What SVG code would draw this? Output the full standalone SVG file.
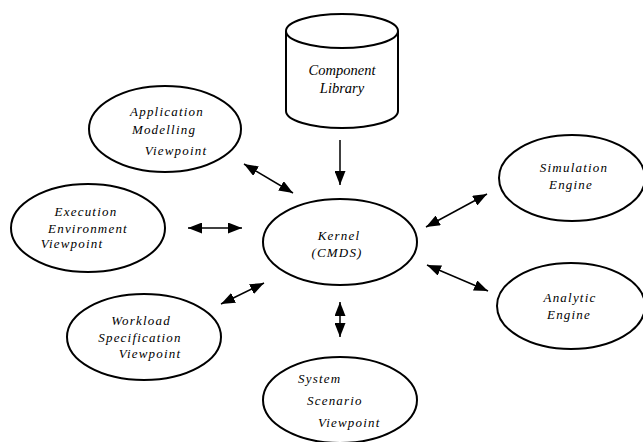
<svg xmlns="http://www.w3.org/2000/svg" width="643" height="442" viewBox="0 0 643 442">
  <style>
    .node { fill: #fff; stroke: #000; stroke-width: 2; }
    .lbl { font-family: 'Liberation Serif', 'Times New Roman', serif; font-style: italic; font-size: 13px; letter-spacing: 1.2px; fill: #000; }
    .lib { letter-spacing: 0; font-size: 14.5px; }
    .mid { text-anchor: middle; }
    .link { stroke: #000; stroke-width: 1.5; fill: none; }
  </style>
  <defs>
    <marker id="head" viewBox="0 0 14 11" refX="14" refY="5.5" markerWidth="14" markerHeight="11" markerUnits="userSpaceOnUse" orient="auto-start-reverse">
      <path d="M0,0 L14,5.5 L0,11 Z" fill="#000"/>
    </marker>
  </defs>
  <rect width="643" height="442" fill="#fff"/>

  <g id="component-library">
    <path class="node" d="M286,31 L286,111 A56,17 0 0 0 398,111 L398,31"/>
    <ellipse class="node" cx="342" cy="31" rx="56" ry="17"/>
    <text class="lbl lib mid" x="342" y="75">Component</text>
    <text class="lbl lib mid" x="342" y="93">Library</text>
  </g>

  <g id="application-modelling">
    <ellipse class="node" cx="165" cy="129" rx="76" ry="43"/>
    <text class="lbl mid" x="167" y="116">Application</text>
    <text class="lbl mid" x="164" y="134">Modelling</text>
    <text class="lbl mid" x="176" y="155">Viewpoint</text>
  </g>

  <g id="execution-environment">
    <ellipse class="node" cx="88" cy="228" rx="77" ry="44"/>
    <text class="lbl mid" x="86" y="216">Execution</text>
    <text class="lbl mid" x="88" y="233">Environment</text>
    <text class="lbl mid" x="72" y="248">Viewpoint</text>
  </g>

  <g id="workload-specification">
    <ellipse class="node" cx="144" cy="337" rx="77" ry="43"/>
    <text class="lbl mid" x="141" y="325">Workload</text>
    <text class="lbl mid" x="140" y="342">Specification</text>
    <text class="lbl mid" x="150" y="358">Viewpoint</text>
  </g>

  <g id="kernel">
    <ellipse class="node" cx="340" cy="242" rx="77" ry="43"/>
    <text class="lbl mid" x="339" y="240">Kernel</text>
    <text class="lbl mid" x="337" y="257">(CMDS)</text>
  </g>

  <g id="system-scenario">
    <ellipse class="node" cx="340" cy="400" rx="77" ry="43"/>
    <text class="lbl" x="298" y="383">System</text>
    <text class="lbl" x="307" y="405">Scenario</text>
    <text class="lbl" x="318" y="427">Viewpoint</text>
  </g>

  <g id="simulation-engine">
    <ellipse class="node" cx="572" cy="178" rx="73" ry="43"/>
    <text class="lbl mid" x="574" y="172">Simulation</text>
    <text class="lbl mid" x="571" y="189">Engine</text>
  </g>

  <g id="analytic-engine">
    <ellipse class="node" cx="571" cy="306" rx="74" ry="43"/>
    <text class="lbl mid" x="570" y="302">Analytic</text>
    <text class="lbl mid" x="569" y="319">Engine</text>
  </g>

  <g id="connectors">
    <line class="link" x1="340" y1="140" x2="340" y2="185" marker-end="url(#head)"/>
    <line class="link" x1="244" y1="164" x2="293" y2="193" marker-start="url(#head)" marker-end="url(#head)"/>
    <line class="link" x1="188" y1="228" x2="242" y2="228" marker-start="url(#head)" marker-end="url(#head)"/>
    <line class="link" x1="221" y1="304" x2="264" y2="283" marker-start="url(#head)" marker-end="url(#head)"/>
    <line class="link" x1="340" y1="302" x2="340" y2="337" marker-start="url(#head)" marker-end="url(#head)"/>
    <line class="link" x1="426" y1="227" x2="487" y2="194" marker-start="url(#head)" marker-end="url(#head)"/>
    <line class="link" x1="427" y1="265" x2="488" y2="291" marker-start="url(#head)" marker-end="url(#head)"/>
  </g>
</svg>
